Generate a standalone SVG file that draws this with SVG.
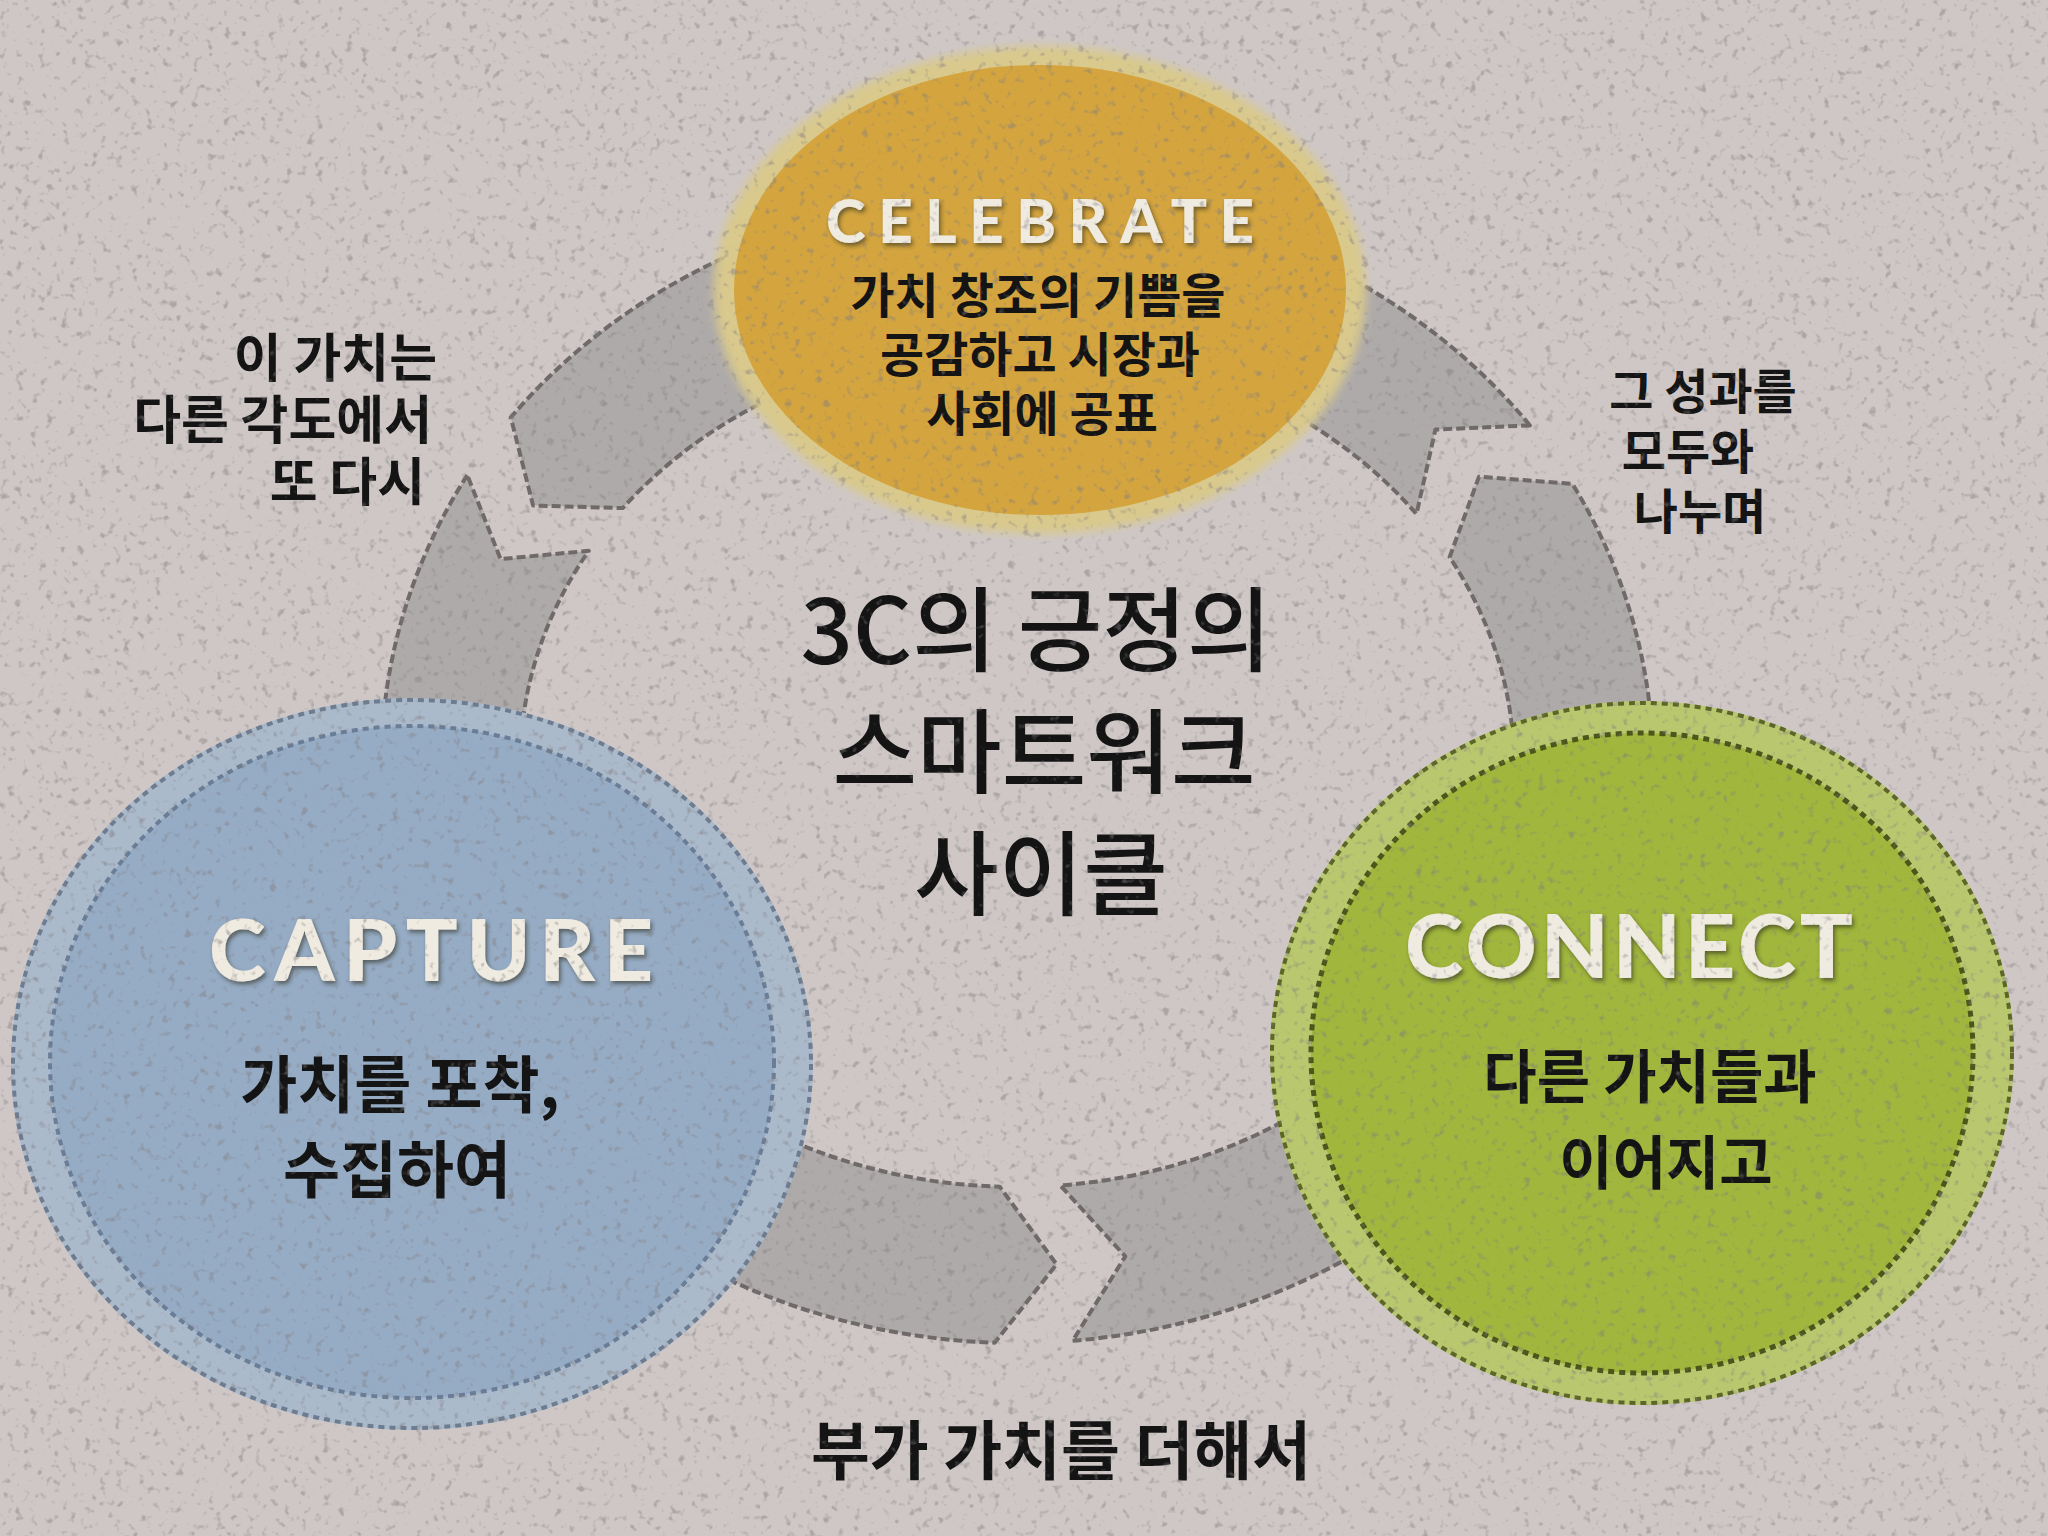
<svg xmlns="http://www.w3.org/2000/svg" width="2048" height="1536" viewBox="0 0 2048 1536">
<defs>
  <filter id="speckle" x="0" y="0" width="2048" height="1536" filterUnits="userSpaceOnUse">
    <feTurbulence type="fractalNoise" baseFrequency="0.13" numOctaves="2" seed="7" result="n"/>
    <feColorMatrix in="n" type="matrix" values="0 0 0 0 0.22  0 0 0 0 0.2  0 0 0 0 0.21  5 0 0 0 -3.0"/>
  </filter>
  <filter id="emboss" x="-10%" y="-30%" width="120%" height="160%">
    <feDropShadow dx="2" dy="3" stdDeviation="2" flood-color="#2e2e22" flood-opacity="0.6"/>
  </filter>
  <filter id="soft" x="-10%" y="-10%" width="120%" height="120%">
    <feGaussianBlur stdDeviation="5"/>
  </filter>
</defs>
<style>
  .ring{fill:#aeaaa9;stroke:#6f6a69;stroke-width:4;stroke-linejoin:round;stroke-dasharray:9 4}
  .en{font-family:Lato,"Liberation Sans",sans-serif;font-weight:900;fill:#efebe0;text-anchor:middle;filter:url(#emboss)}
  .ko{font-family:"Noto Sans CJK KR","Noto Sans",sans-serif;font-weight:700;fill:#141414;text-anchor:middle}
  .title{font-family:"Noto Sans CJK KR","Noto Sans",sans-serif;font-weight:500;fill:#141414;text-anchor:middle;font-size:92px}
  .edge{fill:none;stroke-width:4;stroke-dasharray:6 5}
</style>

<rect x="0" y="0" width="2048" height="1536" fill="#cec7c6"/>

<g id="connectors">
  <path id="arrow-capture-connect" class="ring" d="M 467.3 475.2 A 638 578 0 0 0 994.7 1342.7 L 1056.6 1264.3 L 999.7 1186.7 A 497 422 0 0 1 588.8 550.8 L 500.6 559.1 Z"/>
  <path id="arrow-connect-celebrate" class="ring" d="M 1072.6 1340.8 A 638 578 0 0 0 1572.3 483.8 L 1479.0 476.7 L 1449.6 557.2 A 497 422 0 0 1 1060.3 1185.4 L 1125.3 1256.4 Z"/>
  <path id="arrow-celebrate-capture" class="ring" d="M 1529.9 425.4 A 638 571 0 0 0 510.8 417.4 L 533.1 505.6 L 622.7 508.1 A 497 422 0 0 1 1416.5 514.0 L 1435.4 429.6 Z"/>
</g>

<g id="node-celebrate">
  <ellipse cx="1040" cy="290" rx="326" ry="244" fill="#d9c98c" filter="url(#soft)"/>
  <ellipse cx="1040" cy="290" rx="306" ry="225" fill="#d4a53f"/>
  <text class="en" x="1040" y="243" font-size="60" textLength="428" lengthAdjust="spacing">CELEBRATE</text>
  <text class="ko" font-size="48"><tspan x="1038" y="313">가치 창조의 기쁨을</tspan><tspan x="1040" y="372">공감하고 시장과</tspan><tspan x="1042" y="431">사회에 공표</tspan></text>
</g>

<g id="node-capture">
  <ellipse cx="412" cy="1064" rx="401" ry="366" fill="#abbacb"/>
  <ellipse class="edge" cx="412" cy="1064" rx="399" ry="364" stroke="#6d7c90"/>
  <ellipse cx="412" cy="1062" rx="362" ry="336" fill="#96acc5"/>
  <ellipse class="edge" cx="412" cy="1062" rx="362" ry="336" stroke="#6a7d97"/>
  <text class="en" x="431" y="981" font-size="86" textLength="444" lengthAdjust="spacing">CAPTURE</text>
  <text class="ko" font-size="62"><tspan x="400" y="1108">가치를 포착,</tspan><tspan x="397" y="1193">수집하여</tspan></text>
</g>

<g id="node-connect">
  <ellipse cx="1642" cy="1053" rx="372" ry="352" fill="#b9c76e"/>
  <ellipse class="edge" cx="1642" cy="1053" rx="370" ry="350" stroke="#5c6628"/>
  <ellipse cx="1642" cy="1053" rx="331" ry="320" fill="#a0b63c"/>
  <ellipse class="edge" cx="1642" cy="1053" rx="331" ry="320" stroke="#4c561c" style="stroke-width:5"/>
  <text class="en" x="1629" y="978" font-size="88" textLength="448" lengthAdjust="spacing">CONNECT</text>
  <text class="ko" font-size="58"><tspan x="1650" y="1098">다른 가치들과</tspan><tspan x="1666" y="1184">이어지고</tspan></text>
</g>

<g id="title">
  <text class="title"><tspan x="1036" y="664">3C의 긍정의</tspan><tspan x="1044" y="786">스마트워크</tspan><tspan x="1041" y="908">사이클</tspan></text>
</g>

<g id="label-left">
  <text class="ko" font-size="52" style="text-anchor:end"><tspan x="437" y="377">이 가치는</tspan><tspan x="432" y="439">다른 각도에서</tspan><tspan x="425" y="501">또 다시</tspan></text>
</g>

<g id="label-right">
  <text class="ko" font-size="48"><tspan x="1703" y="409">그 성과를</tspan><tspan x="1688" y="469">모두와</tspan><tspan x="1700" y="529">나누며</tspan></text>
</g>

<g id="label-bottom">
  <text class="ko" x="1061" y="1474" font-size="64">부가 가치를 더해서</text>
</g>

<rect x="0" y="0" width="2048" height="1536" filter="url(#speckle)" opacity="0.45" pointer-events="none"/>
</svg>
